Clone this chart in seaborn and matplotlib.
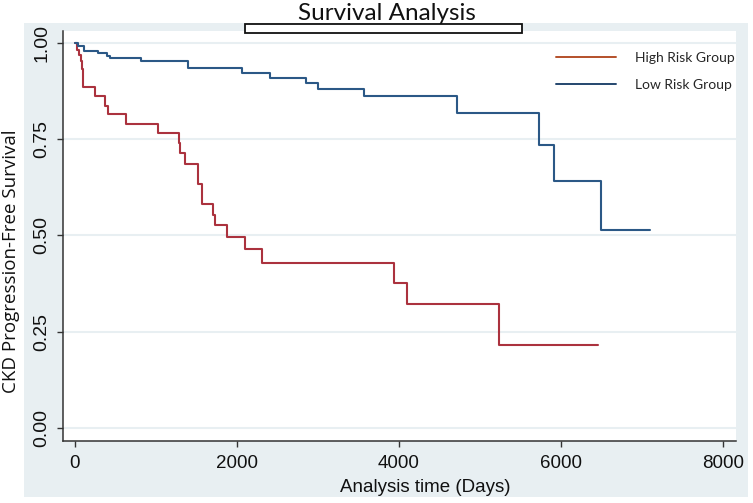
import numpy as np
import pandas as pd
import matplotlib
matplotlib.use("Agg")
import matplotlib.pyplot as plt
import seaborn as sns
from matplotlib.patches import Rectangle
from matplotlib.lines import Line2D
from matplotlib import font_manager

# ---- data ----
high_time = [0, 30, 50, 70, 90, 105, 247, 370, 412, 630, 1021, 1284, 1300, 1358,
             1514, 1563, 1700, 1728, 1872, 2099, 2309, 3934, 4095, 5235, 6453]
high_surv = [1.0, 0.982, 0.969, 0.952, 0.932, 0.885, 0.862, 0.836, 0.815, 0.790,
             0.766, 0.740, 0.714, 0.686, 0.634, 0.582, 0.553, 0.526, 0.495, 0.465,
             0.429, 0.376, 0.322, 0.216, 0.216]
low_time = [0, 41, 111, 288, 391, 432, 815, 1399, 2062, 2411, 2852, 2996, 3572,
            4720, 5728, 5917, 6490, 7099]
low_surv = [1.0, 0.992, 0.980, 0.973, 0.967, 0.961, 0.952, 0.934, 0.923, 0.910,
            0.897, 0.881, 0.862, 0.817, 0.735, 0.642, 0.514, 0.514]
groups = ["High Risk Group", "Low Risk Group"]
x_ticks = [0, 2000, 4000, 6000, 8000]
y_ticks = [0.00, 0.25, 0.50, 0.75, 1.00]
y_tick_labels = ["0.00", "0.25", "0.50", "0.75", "1.00"]

df = pd.concat([
    pd.DataFrame({"time": high_time, "surv": high_surv, "group": groups[0]}),
    pd.DataFrame({"time": low_time, "surv": low_surv, "group": groups[1]}),
], ignore_index=True)

sns.set_theme(style="white")

avail = {f.name for f in font_manager.fontManager.ttflist}
def pick(*names):
    for n in names:
        if n in avail:
            return n
    return "DejaVu Sans"

narrow = pick("Liberation Sans Narrow", "Liberation Sans")
arial = pick("Liberation Sans", "DejaVu Sans")
calib = pick("Lato", "Open Sans", "DejaVu Sans")
opens = pick("Open Sans", "Lato", "DejaVu Sans")
narrow_size = 14.5 if narrow == "Liberation Sans Narrow" else 13.5

W, H = 753, 503
fig = plt.figure(figsize=(W / 100, H / 100), dpi=100, facecolor="white")

# light background panel
fig.add_artist(Rectangle((24 / W, 1 - 497 / H), 724 / W, 474 / H,
                         transform=fig.transFigure, facecolor="#e8eff2",
                         edgecolor="none", zorder=-1))

ax = fig.add_axes([63 / W, 1 - 441 / H, 673 / W, 410 / H])
ax.set_facecolor("white")

line_cols = {groups[0]: "#ab323e", groups[1]: "#2b5886"}
sns.lineplot(data=df, x="time", y="surv", hue="group", palette=line_cols,
             estimator=None, errorbar=None, sort=False, drawstyle="steps-post",
             legend=False, linewidth=1.5, ax=ax)

ax.set_xlim(-148, 8160)
ax.set_ylim(-0.034, 1.031)
ax.set_xticks(x_ticks)
ax.set_yticks(y_ticks)
ax.set_yticklabels(y_tick_labels)
ax.yaxis.grid(True, color="#e8eff2", linewidth=1.5)
ax.xaxis.grid(False)
ax.set_axisbelow(True)

for s in ["top", "right"]:
    ax.spines[s].set_visible(False)
for s in ["left", "bottom"]:
    ax.spines[s].set_color("#333333")
    ax.spines[s].set_linewidth(1.1)

ax.tick_params(axis="both", direction="out", length=4, width=1.0, color="#333333",
               left=True, bottom=True)
ax.tick_params(axis="x", pad=6)
ax.tick_params(axis="y", pad=5)
for lab in ax.get_xticklabels():
    lab.set_fontfamily(narrow)
    lab.set_fontsize(narrow_size)
    lab.set_color("#111111")
for lab in ax.get_yticklabels():
    lab.set_fontfamily(arial)
    lab.set_fontsize(14)
    lab.set_rotation(90)
    lab.set_va("center")
    lab.set_color("#111111")

ax.set_xlabel("Analysis time (Days)", fontfamily=narrow, fontsize=narrow_size,
              color="#111111")
ax.set_ylabel("CKD Progression-Free Survival", fontfamily=opens, fontsize=13.5,
              color="#111111")
ax.xaxis.set_label_coords((425 - 63) / 673, (441 - 488) / 410)
ax.yaxis.set_label_coords((11 - 63) / 673, (441 - 261) / 410)
ax.xaxis.label.set_va("center")
ax.yaxis.label.set_va("center")

# legend
handles = [Line2D([], [], color="#b4502a", linewidth=1.4),
           Line2D([], [], color="#24466e", linewidth=1.4)]
fig.legend(handles, groups, loc="upper left",
           bbox_to_anchor=(556 / W, 1 - 52 / H), bbox_transform=fig.transFigure,
           frameon=False, prop={"family": calib, "size": 10},
           handlelength=4.3, handletextpad=1.4, labelspacing=1.05,
           borderpad=0, borderaxespad=0)

# title and box
fig.text(387 / W, 1 - 20 / H, "Survival Analysis", ha="center", va="baseline",
         fontfamily=calib, fontsize=17.5, color="#111111")
fig.add_artist(Rectangle((245 / W, 1 - 33 / H), 277 / W, 9 / H,
                         transform=fig.transFigure, facecolor="white",
                         edgecolor="#111111", linewidth=1.3, zorder=5))

fig.savefig("out.png", dpi=100)
